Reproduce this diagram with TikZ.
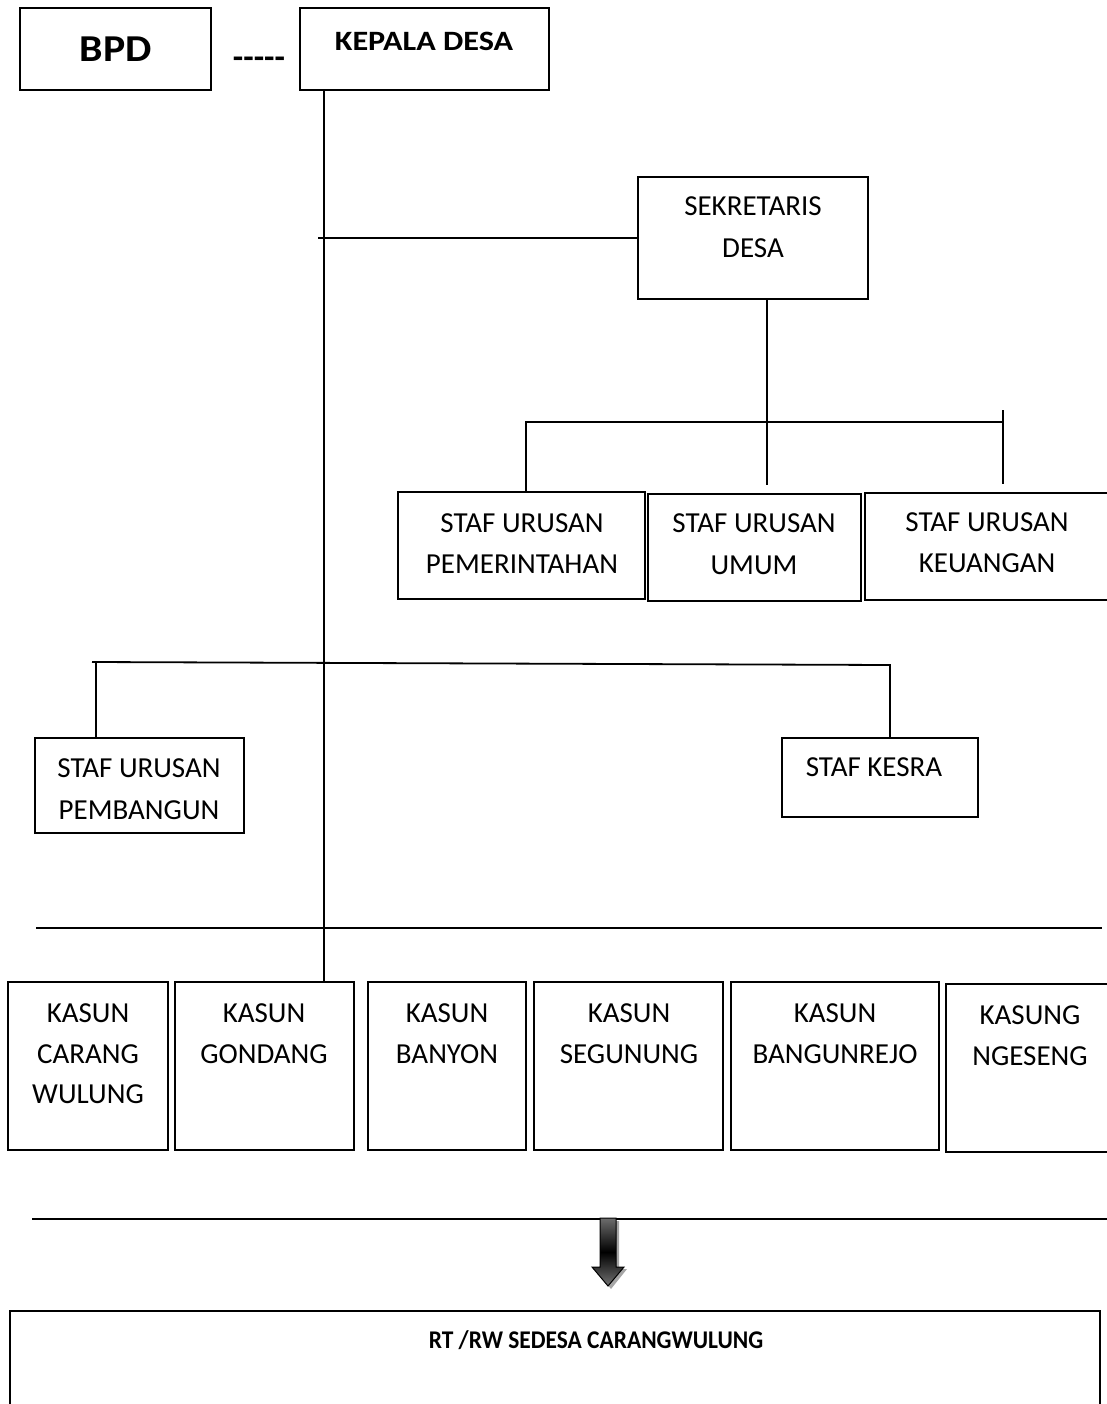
\documentclass[tikz,border=0pt]{standalone}
\usepackage{fontspec}
\setmainfont{Carlito}
\usetikzlibrary{fit}
\begin{document}
\begin{tikzpicture}[x=1pt,y=-1pt,
  box/.style={draw, line width=1.8pt, inner sep=0pt},
  conn/.style={line width=1.8pt},
  lbl/.style={inner sep=0pt, text height=18.5pt, text depth=0pt, font=\fontsize{29}{34}\selectfont},
  blbl/.style={inner sep=0pt, text depth=0pt, font=\bfseries}
]
\useasboundingbox (0,0) rectangle (1107,1404);
% boxes
\node[box, fit={(20,8) (211,90)}] (bpd) {};
\node[box, fit={(300,8) (549,90)}] (kd) {};
\node[box, fit={(638,177) (868,299)}] (sek) {};
\node[box, fit={(398,492) (645,599)}] (pem) {};
\node[box, fit={(648,494) (861,601)}] (umum) {};
\node[box, fit={(865,493) (1130,600)}] (keu) {};
\node[box, fit={(35,738) (244,833)}] (pbg) {};
\node[box, fit={(782,738) (978,817)}] (kes) {};
\node[box, fit={(8,982) (168,1150)}] (k1) {};
\node[box, fit={(175,982) (354,1150)}] (k2) {};
\node[box, fit={(368,982) (526,1150)}] (k3) {};
\node[box, fit={(534,982) (723,1150)}] (k4) {};
\node[box, fit={(731,982) (939,1150)}] (k5) {};
\node[box, fit={(946,984) (1130,1152)}] (k6) {};
\node[box, fit={(10,1311) (1100,1440)}] (rt) {};
% labels
\node[blbl, text height=25pt, font=\bfseries\fontsize{38}{44}\selectfont] (tbpd) at (116,49) {\scalebox{1.1}[1]{BPD}};
\node[blbl, text height=18pt, font=\bfseries\fontsize{28}{33}\selectfont] (tkd) at (424,42) {\scalebox{1.15}[1]{KEPALA DESA}};
\node[blbl, text height=18pt, font=\bfseries\fontsize{34}{40}\selectfont] (tdash) at (259,60) {-{}-{}-{}-{}-};
\node[lbl] (ts1) at (753,206.5) {SEKRETARIS};
\node[lbl] (ts2) at (753,248.5) {DESA};
\node[lbl] (tp1) at (522,523.5) {STAF URUSAN};
\node[lbl] (tp2) at (522,564.5) {PEMERINTAHAN};
\node[lbl] (tu1) at (754,523.5) {STAF URUSAN};
\node[lbl] (tu2) at (754,565.5) {UMUM};
\node[lbl] (tk1) at (987,522) {STAF URUSAN};
\node[lbl] (tk2) at (987,563) {KEUANGAN};
\node[lbl] (tb1) at (139,768.5) {STAF URUSAN};
\node[lbl] (tb2) at (139,810) {PEMBANGUN};
\node[lbl] (tks) at (874,767) {STAF KESRA};
\node[lbl] (ta1) at (88,1013) {KASUN};
\node[lbl] (ta2) at (88,1054) {CARANG};
\node[lbl] (ta3) at (88,1094) {WULUNG};
\node[lbl] (tg1) at (264,1013) {KASUN};
\node[lbl] (tg2) at (264,1054) {GONDANG};
\node[lbl] (tn1) at (447,1013) {KASUN};
\node[lbl] (tn2) at (447,1054) {BANYON};
\node[lbl] (te1) at (629,1013) {KASUN};
\node[lbl] (te2) at (629,1054) {SEGUNUNG};
\node[lbl] (tr1) at (835,1013) {KASUN};
\node[lbl] (tr2) at (835,1054) {BANGUNREJO};
\node[lbl] (tz1) at (1030,1015) {KASUNG};
\node[lbl] (tz2) at (1030,1056) {NGESENG};
\node[blbl, text height=17pt, font=\bfseries\fontsize{25.5}{30}\selectfont] (trt) at (596,1340) {\scalebox{0.92}[1]{RT /RW SEDESA CARANGWULUNG}};
% junction coordinates
\coordinate (spine) at (324,0);
\coordinate (sekL) at (318,238);
\coordinate (sekx) at (767,0);
\coordinate (stubU) at (767,485);
\coordinate (busL) at (526,422);
\coordinate (busR) at (1003,422);
\coordinate (tickT) at (1003,410);
\coordinate (tickB) at (1003,484);
\coordinate (bus2L) at (92,662);
\coordinate (bus2R) at (890,665);
\coordinate (pbgx) at (96,662);
\coordinate (hl1a) at (36,928);
\coordinate (hl1b) at (1102,928);
\coordinate (hl2a) at (32,1219);
\coordinate (hl2b) at (1107,1219);
% connectors
\draw[conn] (kd.south -| spine) -- (k2.north -| spine);
\draw[conn] (sekL) -- (sek.west);
\draw[conn] (sek.south -| sekx) -- (stubU);
\draw[conn] (pem.north -| busL) -- (busL) -- (busR);
\draw[conn] (tickT) -- (tickB);
\draw[conn] (bus2L) -- (bus2R) -- (kes.north -| bus2R);
\draw[conn] (pbgx) -- (pbg.north -| pbgx);
\draw[conn] (hl1a) -- (hl1b);
\draw[conn] (hl2a) -- (hl2b);
% block arrow with shadow
\fill[gray!70] (603,1221) -- (619,1221) -- (619,1269) -- (627,1269) -- (611,1289) -- (595,1269) -- (603,1269) -- cycle;
\shade[top color=gray!85!black, bottom color=gray!90!black, middle color=black, draw=black, line width=1pt]
  (600,1218) -- (616,1218) -- (616,1267) -- (624,1267) -- (608,1286) -- (592,1267) -- (600,1267) -- cycle;
\end{tikzpicture}
\end{document}
